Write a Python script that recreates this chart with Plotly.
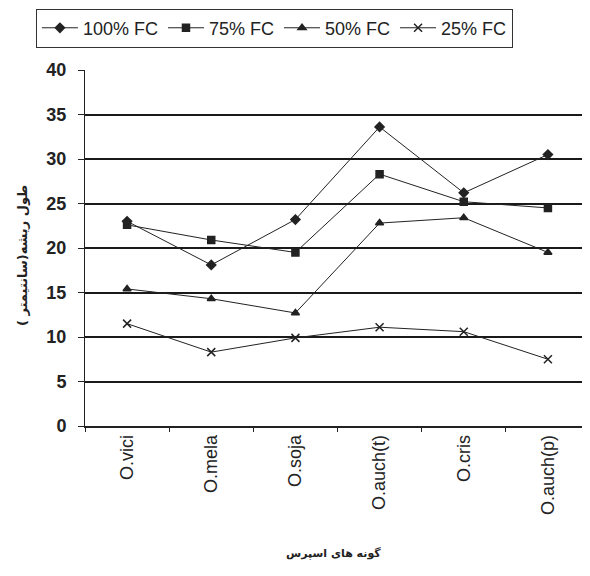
import plotly.graph_objects as go

categories = ["O.vici", "O.mela", "O.soja", "O.auch(t)", "O.cris", "O.auch(p)"]
fc100 = [23.0, 18.1, 23.2, 33.6, 26.2, 30.5]
fc75 = [22.6, 20.9, 19.5, 28.3, 25.2, 24.5]
fc50 = [15.4, 14.3, 12.7, 22.8, 23.4, 19.5]
fc25 = [11.5, 8.3, 9.9, 11.1, 10.6, 7.5]
series_names = ["100% FC", "75% FC", "50% FC", "25% FC"]
y_ticks = [0, 5, 10, 15, 20, 25, 30, 35, 40]
x_title = "گونه های اسپرس"
y_title = "طول ریشه(سانتیمتر )"

FONT = "Arial, Liberation Sans, DejaVu Sans, sans-serif"
FA_FONT = "DejaVu Sans, Noto Sans, sans-serif"

fig = go.Figure()
specs = [
    (fc100, "diamond", 7),
    (fc75, "square", 7),
    (fc50, "triangle-up", 7),
    (fc25, "x-thin", 8),
]
for name, (vals, sym, size) in zip(series_names, specs):
    fig.add_trace(go.Scatter(
        x=categories, y=vals, name=name, mode="lines+markers",
        line=dict(color="#222222", width=1),
        marker=dict(symbol=sym, size=size, color="#222222",
                    line=dict(color="#222222", width=1.5)),
    ))

fig.update_layout(
    width=582, height=568,
    margin=dict(l=77, r=0, t=62, b=150),
    paper_bgcolor="white", plot_bgcolor="white",
    font=dict(family=FONT, color="#222222", size=13),
    showlegend=True,
    legend=dict(
        orientation="h", xref="container", yref="container",
        x=0.048, y=0.999, xanchor="left", yanchor="top",
        bordercolor="#333333", borderwidth=1,
        font=dict(size=18, family=FONT), itemwidth=36,
        tracegroupgap=0,
    ),
    xaxis=dict(
        type="category", range=[-0.5, 5.5],
        showline=True, linecolor="#222222", linewidth=1.5,
        ticks="outside", tickson="boundaries", ticklen=4, tickcolor="#222222",
        tickangle=-90, showgrid=False,
        tickfont=dict(size=18, family=FONT),
    ),
    yaxis=dict(
        range=[0, 40], tickvals=y_ticks,
        showline=True, linecolor="#222222", linewidth=1,
        ticks="outside", ticklen=6, tickcolor="#222222",
        ticklabelstandoff=8,
        showgrid=True, gridcolor="#1a1a1a", gridwidth=1.5,
        zeroline=False,
        tickfont=dict(size=18, family=FONT, weight="bold"),
    ),
    annotations=[
        dict(text="<b>" + x_title + "</b>", xref="paper", yref="paper",
             x=0.493, y=-0.357, xanchor="center", yanchor="middle",
             showarrow=False, font=dict(size=11, family=FA_FONT)),
        dict(text="<b>" + y_title + "</b>", xref="paper", yref="paper",
             x=-0.125, y=0.48, xanchor="center", yanchor="middle",
             textangle=-90, showarrow=False, font=dict(size=13, family=FA_FONT)),
    ],
)

fig.write_html("out.html")
